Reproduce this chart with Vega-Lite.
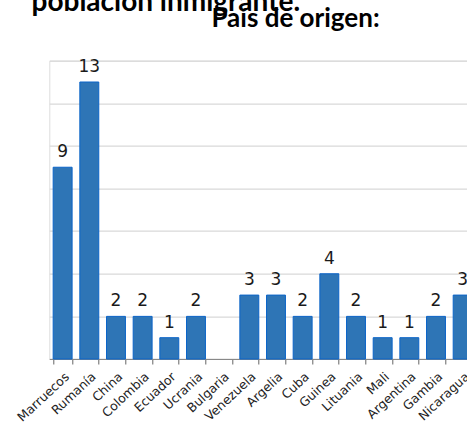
{
  "$schema": "https://vega.github.io/schema/vega-lite/v6.json",
  "autosize": "none",
  "width": 417.7,
  "height": 298.3,
  "padding": {"left": 49.3, "top": 60.7, "right": 0, "bottom": 67},
  "background": "white",
  "data": {
    "values": [
      {"pais": "Marruecos", "n": 9},
      {"pais": "Rumanía", "n": 13},
      {"pais": "China", "n": 2},
      {"pais": "Colombia", "n": 2},
      {"pais": "Ecuador", "n": 1},
      {"pais": "Ucrania", "n": 2},
      {"pais": "Bulgaria", "n": 0},
      {"pais": "Venezuela", "n": 3},
      {"pais": "Argelia", "n": 3},
      {"pais": "Cuba", "n": 2},
      {"pais": "Guinea", "n": 4},
      {"pais": "Lituania", "n": 2},
      {"pais": "Mali", "n": 1},
      {"pais": "Argentina", "n": 1},
      {"pais": "Gambia", "n": 2},
      {"pais": "Nicaragua", "n": 3}
    ]
  },
  "encoding": {
    "x": {
      "field": "pais",
      "type": "nominal",
      "sort": null,
      "scale": {"paddingInner": 0.29, "paddingOuter": 0.145, "range": [0, 426.7]},
      "axis": {
        "title": "País de origen:",
        "titleAngle": 0,
        "titleAlign": "center",
        "titleBaseline": "alphabetic",
        "titleX": 245.7,
        "titleY": -333,
        "titleFont": "Lato",
        "titleFontSize": 26,
        "titleFontWeight": "bold",
        "titleColor": "#000000",
        "labelAngle": -43,
        "labelFont": "DejaVu Sans",
        "labelFontSize": 12.5,
        "labelColor": "#222222",
        "labelPadding": 6,
        "tickBand": "extent",
        "tickSize": 5,
        "tickColor": "#666666",
        "domainColor": "#888888",
        "grid": false,
        "labelOverlap": false
      }
    },
    "y": {
      "field": "n",
      "type": "quantitative",
      "scale": {"domain": [0, 14], "nice": false},
      "axis": {
        "title": "población inmigrante.",
        "titleAngle": 0,
        "titleAlign": "left",
        "titleBaseline": "alphabetic",
        "titleX": -18.3,
        "titleY": -50.7,
        "titleFont": "Lato",
        "titleFontSize": 28,
        "titleFontWeight": "bold",
        "titleColor": "#000000",
        "labels": false,
        "ticks": false,
        "domain": false,
        "values": [0, 2, 4, 6, 8, 10, 12, 14],
        "grid": true,
        "gridColor": "#d9d9d9",
        "gridWidth": 1.2
      }
    }
  },
  "layer": [
    {
      "mark": {"type": "bar", "fill": "#2e75b6", "stroke": "#0b64c8", "strokeWidth": 1},
      "encoding": {
        "strokeOpacity": {"condition": {"test": "datum.n == 0", "value": 0}, "value": 1}
      }
    },
    {
      "transform": [{"filter": "datum.n > 0"}],
      "mark": {"type": "text", "baseline": "bottom", "dy": -6, "font": "DejaVu Sans", "fontSize": 17, "color": "#1a1a1a"},
      "encoding": {"text": {"field": "n", "type": "quantitative"}}
    }
  ]
}
